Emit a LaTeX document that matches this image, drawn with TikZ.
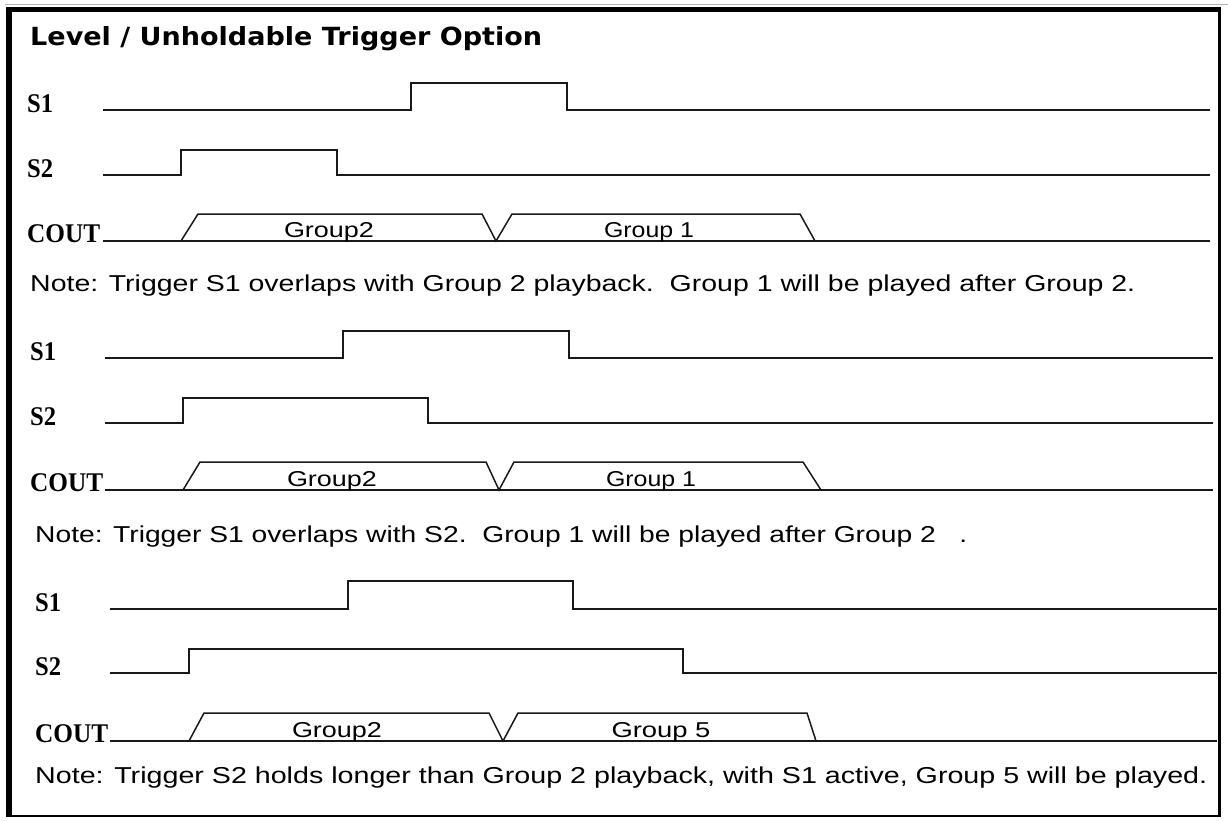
\documentclass[tikz,border=0pt]{standalone}
\usepackage{fontspec}
\setmainfont{Liberation Sans}
\newfontfamily\titlefont{DejaVu Sans}
\newfontfamily\labelfont{Liberation Serif}
\usepackage{graphicx}
\newcommand\hw[2]{\resizebox{#1}{\height}{#2}}
\tikzset{
  sig/.style={line width=1.5pt, line join=miter, black!90},
  lbl/.style={anchor=base west, inner sep=0pt, font=\labelfont\bfseries\fontsize{27}{27}\selectfont},
  note/.style={anchor=base west, inner sep=0pt, font=\fontsize{23}{23}\selectfont},
  grp/.style={anchor=base, inner sep=0pt, font=\fontsize{21.5}{21.5}\selectfont},
  ttl/.style={anchor=base west, inner sep=0pt, font=\titlefont\bfseries\fontsize{25}{25}\selectfont},
}
\begin{document}
\begin{tikzpicture}[x=1pt,y=-1pt]
\useasboundingbox (0,0) rectangle (1228,820);
\fill[white] (0,0) rectangle (1228,820);
% frame
\draw[gray!60, line width=1pt] (5,4) -- (1228,4);
\fill[black] (6,7) rectangle (1221,12);
\fill[black] (6,7) rectangle (12,817);
\fill[black] (1218,7) rectangle (1221,817);
\fill[black] (6,814.5) rectangle (1221,817);
% title
\node[ttl] (title) at (30,45) {\hw{512pt}{Level / Unholdable Trigger Option}};

% ---------- panel 1 ----------
\node[lbl] (a1) at (27,112) {\hw{26pt}{S1}};
\node[lbl] (a2) at (27,177) {\hw{26pt}{S2}};
\node[lbl] (a3) at (27,242) {\hw{73pt}{COUT}};
\draw[sig] (103,110) -- (411,110) -- (411,83) -- (567,83) -- (567,110) -- (1210,110);
\draw[sig] (103,175) -- (181,175) -- (181,150) -- (337,150) -- (337,175) -- (1210,175);
\draw[sig] (103,241) -- (1210,241);
\draw[sig] (181,241) -- (198,214) -- (482,214) -- (496,241) -- (512,214) -- (800,214) -- (815,241);
\node[grp] (ag2) at (329,237) {\hw{90pt}{Group2}};
\node[grp] (ag1) at (649,237) {\hw{90pt}{Group 1}};
\node[note] (an) at (30,291) {\hw{1105pt}{Note: Trigger S1 overlaps with Group 2 playback.\ \ Group 1 will be played after Group 2.}};

% ---------- panel 2 ----------
\node[lbl] (b1) at (30,360) {\hw{26pt}{S1}};
\node[lbl] (b2) at (30,425) {\hw{26pt}{S2}};
\node[lbl] (b3) at (30,491) {\hw{73pt}{COUT}};
\draw[sig] (105,358) -- (343,358) -- (343,331) -- (569,331) -- (569,358) -- (1213,358);
\draw[sig] (105,423) -- (183,423) -- (183,398) -- (428,398) -- (428,423) -- (1213,423);
\draw[sig] (105,490) -- (1213,490);
\draw[sig] (183,490) -- (200,462) -- (486,462) -- (499,490) -- (514,462) -- (803,462) -- (821,490);
\node[grp] (bg2) at (332,486) {\hw{90pt}{Group2}};
\node[grp] (bg1) at (651,486) {\hw{90pt}{Group 1}};
\node[note] (bn) at (35,542) {\hw{932pt}{Note: Trigger S1 overlaps with S2.\ \ Group 1 will be played after Group 2\ \ \ .}};

% ---------- panel 3 ----------
\node[lbl] (c1) at (35,611) {\hw{26pt}{S1}};
\node[lbl] (c2) at (35,675) {\hw{26pt}{S2}};
\node[lbl] (c3) at (35,742) {\hw{73pt}{COUT}};
\draw[sig] (110,609) -- (348,609) -- (348,581) -- (573,581) -- (573,609) -- (1217,609);
\draw[sig] (110,673) -- (189,673) -- (189,649) -- (683,649) -- (683,673) -- (1217,673);
\draw[sig] (110,741) -- (1217,741);
\draw[sig] (189,741) -- (204,713) -- (489,713) -- (503,741) -- (518,713) -- (807,713) -- (816,741);
\node[grp] (cg2) at (337,737) {\hw{90pt}{Group2}};
\node[grp] (cg5) at (661,737) {\hw{99pt}{Group 5}};
\node[note] (cn) at (35,783) {\hw{1172pt}{Note: Trigger S2 holds longer than Group 2 playback, with S1 active, Group 5 will be played.}};
\end{tikzpicture}
\end{document}
